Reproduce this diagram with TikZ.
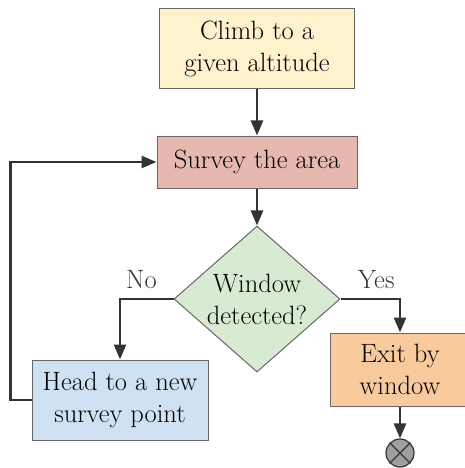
\documentclass[tikz,border=0pt]{standalone}
\usepackage{xcolor}
\usetikzlibrary{arrows.meta,positioning,shapes.geometric}
\definecolor{lineg}{HTML}{333333}
\definecolor{edgeg}{HTML}{666666}
\definecolor{climbc}{HTML}{FFF2CC}
\definecolor{surveyc}{HTML}{E6B8AF}
\definecolor{decidec}{HTML}{D9EAD3}
\definecolor{headc}{HTML}{CFE2F3}
\definecolor{exitc}{HTML}{F9CB9C}
\tikzset{
  box/.style={draw=edgeg, line width=1pt, inner sep=0pt, align=center,
              font=\fontsize{26.5}{32}\selectfont},
  decide/.style={box, diamond, shape aspect=1.14, minimum width=166pt,
                 minimum height=146pt},
  arr/.style={-{Triangle[length=15pt, width=12pt]}, line width=2.6pt, lineg},
  lbl/.style={font=\fontsize{26.5}{32}\selectfont, inner sep=2pt}
}

\begin{document}
\begin{tikzpicture}[x=1pt, y=1pt]
  \useasboundingbox (0,0) rectangle (465,-468);
  \node[box, fill=climbc, minimum width=195pt, minimum height=80pt] (climb) at (257,-49)
    {Climb to a\\given altitude};
  \node[box, fill=surveyc, minimum width=200pt, minimum height=52pt, below=46pt of climb] (survey)
    {Survey the area};
  \node[decide, fill=decidec, below=37pt of survey] (detect) {Window\\detected?};
  \node[box, fill=headc, minimum width=176pt, minimum height=80pt] (head) at (120,-400)
    {Head to a new\\survey point};
  \node[box, fill=exitc, minimum width=140pt, minimum height=73pt] (exit) at (400,-369.5)
    {Exit by\\window};
  \node[circle, draw=lineg, fill=gray!75, line width=1.2pt, minimum size=28pt, inner sep=0pt] (stop) at (400,-453) {};
  \draw[lineg, line width=1.2pt] (stop.north west) -- (stop.south east);
  \draw[lineg, line width=1.2pt] (stop.north east) -- (stop.south west);

  \draw[arr] (climb) -- (survey);
  \draw[arr] (survey) -- (detect);
  \draw[arr] (detect.west) -| node[lbl, pos=0.3, above=7pt] {No} (head.north);
  \draw[arr] (detect.east) -| node[lbl, pos=0.3, above=7pt] {Yes} (exit.north);
  \draw[arr] (head.west) -- ++(-21,0) |- (survey.west);
  \draw[arr] (exit) -- (stop);
\end{tikzpicture}
\end{document}
